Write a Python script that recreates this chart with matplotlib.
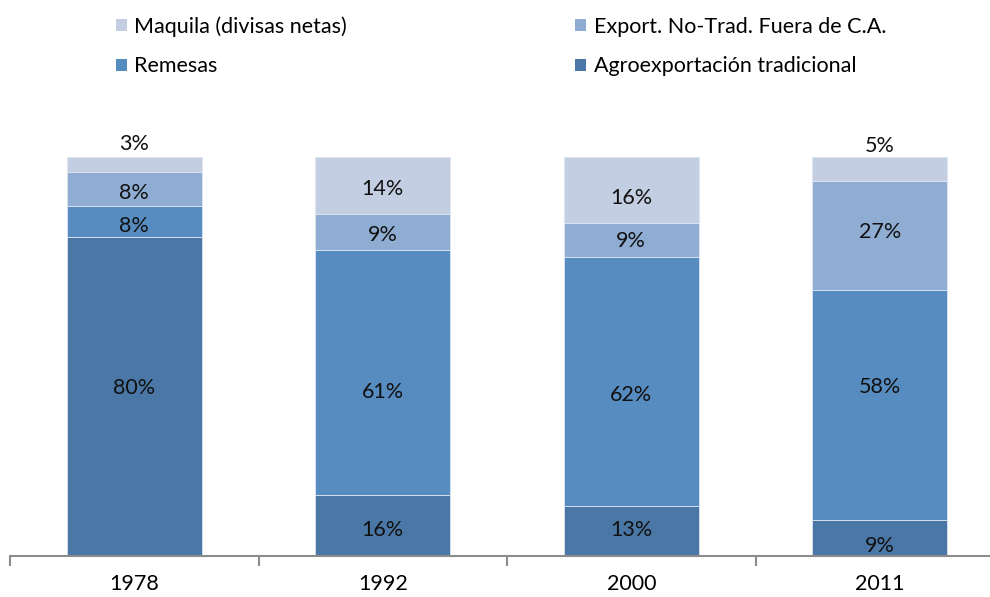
import numpy as np
import matplotlib.pyplot as plt
from matplotlib.patches import Patch

plt.rcParams['font.family'] = ['Lato', 'DejaVu Sans']

years = ['1978', '1992', '2000', '2011']
series = ['Agroexportación tradicional', 'Remesas',
          'Export. No-Trad. Fuera de C.A.', 'Maquila (divisas netas)']
# shares (%)
agro = [80.0, 15.3, 12.5, 9.0]
remesas = [7.8, 61.4, 62.4, 57.6]
export_nt = [8.5, 9.0, 8.6, 27.3]
maquila = [3.8, 14.3, 16.5, 6.0]
# data labels as printed on the chart
lab_agro = ['80%', '16%', '13%', '9%']
lab_remesas = ['8%', '61%', '62%', '58%']
lab_export = ['8%', '9%', '9%', '27%']
lab_maquila = ['3%', '14%', '16%', '5%']
colors = ['#4a77a5', '#578cc0', '#8fadd3', '#c4cee3']

# labels were hand-placed in the original; nudge (pixels, down) from segment centre
nudge = [[-9, 5, -1, 8],
         [4, 20, 13, -18],
         [4, 3, 1, -3],
         [1, 3, 8, 3]]

vals = np.array([agro, remesas, export_nt, maquila], dtype=float)
labels = [lab_agro, lab_remesas, lab_export, lab_maquila]
shares = vals / vals.sum(axis=0)

fig = plt.figure(figsize=(9.9, 5.97), dpi=100)
ax = fig.add_axes([10 / 990, 41 / 597, 994 / 990, 400 / 597])

x = np.arange(len(years))
bottom = np.zeros(len(years))
for i, s in enumerate(series):
    ax.bar(x, shares[i], 0.545, bottom=bottom, color=colors[i],
           edgecolor='#dde6f0', linewidth=0.6, label=s)
    for j in range(len(years)):
        yc = bottom[j] + shares[i][j] / 2
        if i == 3 and vals[i][j] < 7:
            yc = bottom[j] + shares[i][j] + 0.035  # small top labels sit above the bar
        ax.annotate(labels[i][j], (x[j], yc), xytext=(0, -nudge[i][j] * 0.72),
                    textcoords='offset points', ha='center', va='center',
                    fontsize=15.5, color='#111111', annotation_clip=False)
    bottom += shares[i]

ax.set_xlim(-0.5, 3.5)
ax.set_ylim(0, 1.0025)
ax.set_xticks(x)
ax.set_xticklabels(years, fontsize=15.5)
ax.set_xticks(np.arange(-0.5, 4, 1), minor=True)
ax.tick_params(axis='x', which='major', length=0, pad=13)
ax.tick_params(axis='x', which='minor', length=7, width=1.5, color='#8c8c8c')
ax.set_yticks([])
for sp in ['top', 'right', 'left']:
    ax.spines[sp].set_visible(False)
ax.spines['bottom'].set_color('#8c8c8c')
ax.spines['bottom'].set_linewidth(1.5)

order = [3, 1, 2, 0]
handles = [Patch(facecolor=colors[k], label=series[k]) for k in order]
fig.legend(handles=handles, ncol=2, loc='upper left',
           bbox_to_anchor=(116 / 990, 1 - 16 / 597), frameon=False,
           fontsize=15.5, handlelength=0.5, handleheight=0.5,
           handletextpad=0.35, columnspacing=10.6, labelspacing=0.92,
           borderpad=0, borderaxespad=0)

fig.savefig('out.png', dpi=100)
